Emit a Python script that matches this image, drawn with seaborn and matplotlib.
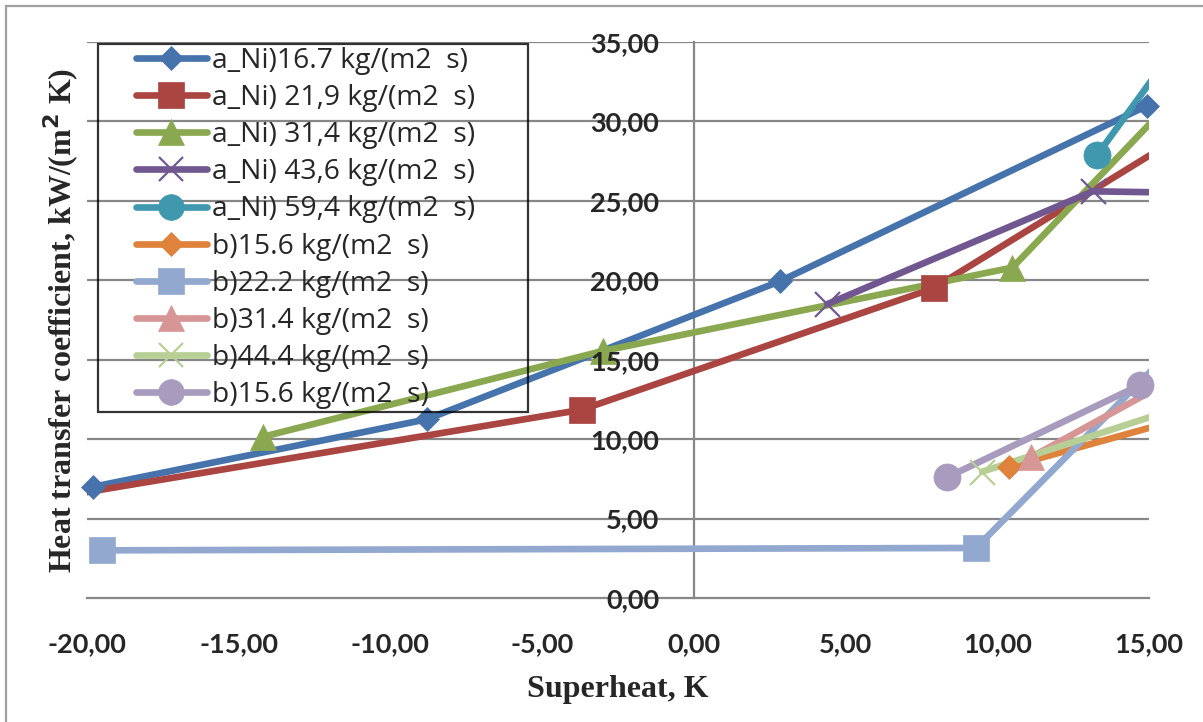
import matplotlib
matplotlib.use("Agg")
import matplotlib.pyplot as plt
from matplotlib.lines import Line2D
from matplotlib.legend_handler import HandlerLine2D
from matplotlib.patches import Rectangle
from matplotlib.ticker import FuncFormatter
import seaborn as sns

# ---- data: superheat (K) vs heat transfer coefficient (kW/(m2 K)) ----
labels = [
    "a_Ni)16.7 kg/(m2  s)",
    "a_Ni) 21,9 kg/(m2  s)",
    "a_Ni) 31,4 kg/(m2  s)",
    "a_Ni) 43,6 kg/(m2  s)",
    "a_Ni) 59,4 kg/(m2  s)",
    "b)15.6 kg/(m2  s)",
    "b)22.2 kg/(m2  s)",
    "b)31.4 kg/(m2  s)",
    "b)44.4 kg/(m2  s)",
    "b)15.6 kg/(m2  s)",
]

x_a167 = [-19.8, -8.8, 2.85, 14.95]
y_a167 = [7.0, 11.25, 19.95, 31.0]
x_a219 = [-21.0, -3.7, 7.9, 16.5]
y_a219 = [6.35, 11.85, 19.5, 29.6]
x_a314 = [-14.2, -3.0, 10.5, 16.0]
y_a314 = [10.15, 15.55, 20.8, 31.8]
x_a436 = [4.4, 13.15, 16.5]
y_a436 = [18.5, 25.6, 25.5]
x_a594 = [13.3, 16.0]
y_a594 = [27.9, 35.0]
x_b156 = [10.4, 16.5]
y_b156 = [8.27, 11.5]
x_b222 = [-19.5, 9.3, 16.0]
y_b222 = [3.0, 3.15, 16.1]
x_b314 = [11.1, 16.5]
y_b314 = [8.85, 14.5]
x_b444 = [9.5, 16.5]
y_b444 = [7.95, 12.3]
x_b156b = [8.35, 14.7]
y_b156b = [7.6, 13.4]

xs = [x_a167, x_a219, x_a314, x_a436, x_a594, x_b156, x_b222, x_b314, x_b444, x_b156b]
ys = [y_a167, y_a219, y_a314, y_a436, y_a594, y_b156, y_b222, y_b314, y_b444, y_b156b]

x_ticks = [-20, -15, -10, -5, 0, 5, 10, 15]
y_ticks = [0, 5, 10, 15, 20, 25, 30, 35]

# ---- styling ----
colors = ["#4673AB", "#AA4542", "#8AA84F", "#71578F", "#4098AF",
          "#DE823C", "#92A8CF", "#D59695", "#B7CF95", "#A89BBE"]
markers = ["D", "s", "^", "x", "o", "D", "s", "^", "x", "o"]
msizes = [12.5, 19, 19, 18, 19.5, 12.5, 19, 19, 18, 19.5]
LW = 4.8
GRID = "#878787"

sns.set_style("white")
plt.rcParams["font.family"] = ["Lato", "DejaVu Sans"]

W, H = 1203, 722
fig = plt.figure(figsize=(W / 100, H / 100), dpi=100)
x0, x1, y_top, y_bot = 87, 1149, 42, 598
ax = fig.add_axes([x0 / W, 1 - y_bot / H, (x1 - x0) / W, (y_bot - y_top) / H])

# horizontal gridlines
for yv in y_ticks[1:]:
    ax.axhline(yv, color=GRID, lw=1.6, zorder=0.5)

x_lo, x_hi = x_ticks[0], x_ticks[-1]
for xv, yv, c, m, ms in zip(xs, ys, colors, markers, msizes):
    # connecting line, clipped to the plot area
    sns.lineplot(x=xv, y=yv, sort=False, estimator=None, ax=ax, color=c,
                 linewidth=LW, solid_capstyle="round", solid_joinstyle="round",
                 zorder=2)
    # markers for the points inside the axis range
    xin = [a for a in xv if x_lo <= a <= x_hi]
    yin = [b for a, b in zip(xv, yv) if x_lo <= a <= x_hi]
    mew = 1.6 if m == "x" else 0.5
    sns.lineplot(x=xin, y=yin, sort=False, estimator=None, ax=ax,
                 color=c, linestyle="", marker=m, markersize=ms,
                 markerfacecolor=c, markeredgecolor=c, markeredgewidth=mew,
                 clip_on=False, zorder=2.1)

ax.set_xlim(x_lo, x_hi)
ax.set_ylim(y_ticks[0], y_ticks[-1])
ax.set_xticks(x_ticks)
ax.set_yticks(y_ticks)
fmt = FuncFormatter(lambda v, p: f"{v:.2f}".replace(".", ","))
ax.xaxis.set_major_formatter(fmt)
ax.yaxis.set_major_formatter(fmt)

for s in ["top", "right"]:
    ax.spines[s].set_visible(False)
ax.spines["left"].set_position(("data", 0))
for s in ["left", "bottom"]:
    ax.spines[s].set_color(GRID)
    ax.spines[s].set_linewidth(1.6)
    ax.spines[s].set_zorder(0.6)

ax.set_axisbelow(False)
ax.xaxis.set_zorder(3)
ax.yaxis.set_zorder(3)
ax.tick_params(axis="x", direction="out", length=7.5, width=1.6, color=GRID,
               pad=17, labelsize=19.5)
ax.tick_params(axis="y", length=0, pad=25, labelsize=19.5)
for t in ax.get_xticklabels() + ax.get_yticklabels():
    t.set_fontweight("bold")

ax.set_xlabel("Superheat, K", fontsize=23, fontweight="bold",
              family="Liberation Serif")
ax.set_ylabel("Heat transfer coefficient, kW/(m$^{\\mathbf{2}}$ K)", fontsize=23,
              fontweight="bold", family="Liberation Serif")
ax.xaxis.set_label_coords(0.5, -(675 - y_bot) / (y_bot - y_top), transform=ax.transAxes)
ax.yaxis.set_label_coords((81 - x0) / (x1 - x0), 0.5, transform=ax.transAxes)

# legend
LEG_FS = 20.3
handles = [Line2D([], [], color=c, lw=LW, marker=m, markersize=ms * 0.95,
                  markerfacecolor=c, markeredgecolor=c,
                  markeredgewidth=(1.6 if m == "x" else 0.5),
                  solid_capstyle="round")
           for c, m, ms in zip(colors, markers, msizes)]
leg = ax.legend(handles, labels, loc="upper left",
                bbox_to_anchor=(98 / W, 1 - 404 / H, 430 / W, 360 / H),
                bbox_transform=fig.transFigure, mode="expand",
                borderaxespad=0, borderpad=0.1,
                prop={"family": "Open Sans", "size": LEG_FS},
                labelspacing=0.325, handlelength=3.75, handletextpad=0.18,
                frameon=True, fancybox=False,
                handler_map={Line2D: HandlerLine2D(numpoints=1, xpad=1.26)})
leg.get_frame().set_edgecolor("black")
leg.get_frame().set_linewidth(1.6)
leg.get_frame().set_facecolor("none")
leg.set_zorder(4)

# chart-area border
fig.add_artist(Rectangle((5.5 / W, -0.1), 1.2, 1 - 5.5 / H + 0.1,
                         transform=fig.transFigure, fill=False,
                         edgecolor="#A0A0A0", lw=1.6))

fig.savefig("out.png", dpi=100)
